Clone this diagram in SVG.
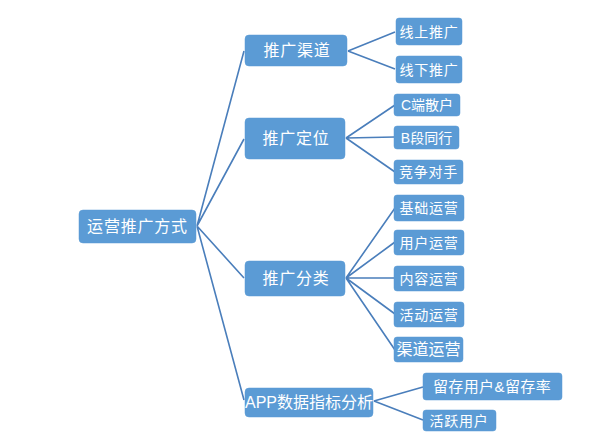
<svg xmlns="http://www.w3.org/2000/svg" width="595" height="440" viewBox="0 0 595 440">
<style>
.box{fill:#5b9bd5;stroke:#5b9bd5;stroke-width:0.5}
.t{fill:#ffffff;font-family:"Liberation Sans","Noto Sans CJK SC",sans-serif;text-anchor:middle;dominant-baseline:central}
.l1{font-size:16px;letter-spacing:0.8px}
.l2{font-size:14px;letter-spacing:0.8px}
.conn{stroke:#4a7ebb;stroke-width:1.6;fill:none}
</style>
<rect width="595" height="440" fill="#ffffff"/>
<g id="connectors" class="conn">
<path d="M197,226 L244,51 M197,226 L244,139 M197,226 L244,278 M197,226 L244,400"/>
<path d="M348,51 L395,32 M348,51 L395,69"/>
<path d="M346,138 L395,105 M346,138 L395,137 M346,138 L395,172"/>
<path d="M346,278 L395,208 M346,278 L395,242 M346,278 L395,278 M346,278 L395,314 M346,278 L395,350"/>
<path d="M374,401 L423,387 M374,401 L423,420"/>
</g>
<g id="root"><rect class="box" x="79" y="210" width="117" height="33" rx="4"/><text class="t l1" x="137.5" y="226">运营推广方式</text></g>
<g id="n-qudao"><rect class="box" x="245" y="35" width="102" height="31" rx="4"/><text class="t l1" x="297" y="50">推广渠道</text></g>
<g id="n-dingwei"><rect class="box" x="245" y="118" width="100" height="41" rx="4"/><text class="t l1" x="296" y="138">推广定位</text></g>
<g id="n-fenlei"><rect class="box" x="245" y="261" width="100" height="35" rx="4"/><text class="t l1" x="296" y="278">推广分类</text></g>
<g id="n-app"><rect class="box" x="245" y="388" width="128" height="29" rx="4"/><text class="t" style="font-size:16px" x="309" y="402">APP数据指标分析</text></g>
<g id="n-xianshang"><rect class="box" x="396" y="18" width="66" height="27" rx="3"/><text class="t l2" x="429" y="31.5">线上推广</text></g>
<g id="n-xianxia"><rect class="box" x="396" y="56" width="66" height="27" rx="3"/><text class="t l2" x="429" y="69.5">线下推广</text></g>
<g id="n-c"><rect class="box" x="394" y="94" width="66" height="22" rx="3"/><text class="t l2" x="427" y="105" style="letter-spacing:0">C端散户</text></g>
<g id="n-b"><rect class="box" x="394" y="126" width="65" height="23" rx="3"/><text class="t l2" x="426.5" y="137.5" style="letter-spacing:0">B段同行</text></g>
<g id="n-jingzheng"><rect class="box" x="394" y="160" width="69" height="24" rx="3"/><text class="t l2" x="428.5" y="172">竞争对手</text></g>
<g id="n-jichu"><rect class="box" x="394" y="195" width="70" height="26" rx="3"/><text class="t l2" x="429" y="208">基础运营</text></g>
<g id="n-yonghu"><rect class="box" x="394" y="230" width="70" height="25" rx="3"/><text class="t l2" x="429" y="242.5">用户运营</text></g>
<g id="n-neirong"><rect class="box" x="394" y="266" width="70" height="25" rx="3"/><text class="t l2" x="429" y="278.5">内容运营</text></g>
<g id="n-huodong"><rect class="box" x="394" y="302" width="70" height="25" rx="3"/><text class="t l2" x="429" y="314.5">活动运营</text></g>
<g id="n-qudaoyy"><rect class="box" x="394" y="337" width="69" height="25" rx="3"/><text class="t" style="font-size:16px" x="428.5" y="349.5">渠道运营</text></g>
<g id="n-liucun"><rect class="box" x="423" y="373" width="139" height="27" rx="3"/><text class="t" style="font-size:15px;letter-spacing:0.4px" x="492" y="386.5">留存用户&amp;留存率</text></g>
<g id="n-huoyue"><rect class="box" x="423" y="410" width="73" height="21" rx="3"/><text class="t l2" x="459" y="420.5">活跃用户</text></g>
</svg>
